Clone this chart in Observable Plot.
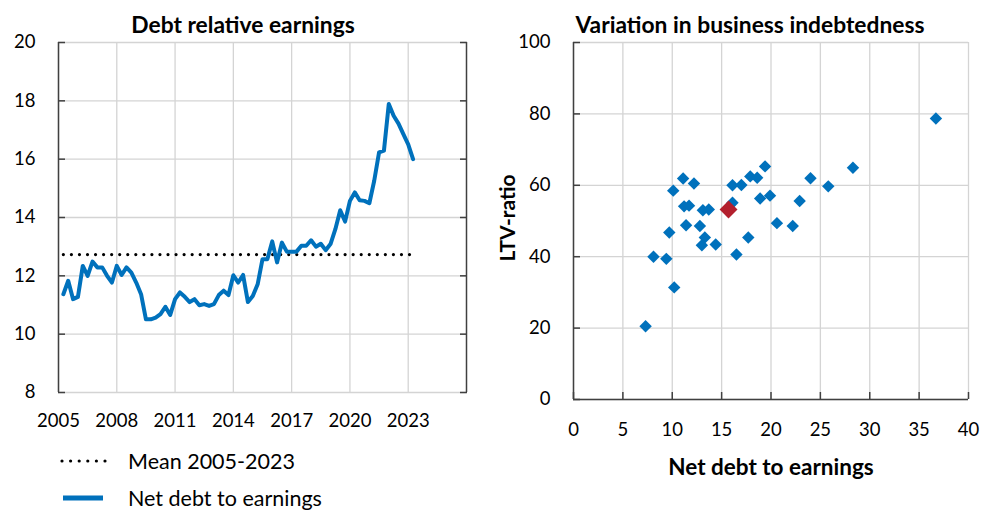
<!DOCTYPE html>
<html><head><meta charset="utf-8">
<script src="https://cdn.jsdelivr.net/npm/d3@7"></script>
<script src="https://cdn.jsdelivr.net/npm/@observablehq/plot@0.6"></script>
<style>
html,body{margin:0;padding:0;background:#fff;}
#wrap{position:relative;width:983px;height:510px;overflow:hidden;font-family:Lato,sans-serif;color:#000;}
.abs{position:absolute;}
.title{font-weight:bold;font-size:22.8px;white-space:nowrap;transform:translate(-50%,-50%);}
.leg{font-size:21.5px;white-space:nowrap;transform:translateY(-50%);}
</style></head><body>
<div id="wrap">
  <div id="left" class="abs" style="left:0;top:0"></div>
  <div id="right" class="abs" style="left:490px;top:0"></div>
  <div class="abs title" style="left:243px;top:24px">Debt relative earnings</div>
  <div class="abs title" style="left:750px;top:24px">Variation in business indebtedness</div>
  <svg class="abs" style="left:0;top:440px" width="125" height="70">
    <line x1="62" x2="106" y1="21" y2="21" stroke="#000" stroke-width="3.2" stroke-linecap="round" stroke-dasharray="0,8.6"/>
    <line x1="63" x2="103" y1="58" y2="58" stroke="#0071bc" stroke-width="5"/>
  </svg>
  <div class="abs leg" style="left:128px;top:461px">Mean 2005-2023</div>
  <div class="abs leg" style="left:128px;top:498px">Net debt to earnings</div>
</div>
<script>
// ---- Left chart data: net debt to earnings, quarterly 2005Q1–2023Q1 ----
const netDebtToEarnings = [11.37,11.83,11.2,11.28,12.34,12.0,12.49,12.29,12.29,12.0,11.77,12.34,12.03,12.29,12.11,11.77,11.37,10.51,10.51,10.57,10.69,10.94,10.66,11.2,11.43,11.28,11.1,11.2,10.99,11.03,10.97,11.03,11.34,11.49,11.34,12.02,11.77,12.03,11.1,11.31,11.71,12.57,12.57,13.18,12.46,13.14,12.83,12.83,12.83,13.03,13.03,13.22,13.0,13.1,12.88,13.09,13.6,14.25,13.86,14.57,14.86,14.59,14.57,14.49,15.26,16.23,16.29,17.89,17.49,17.22,16.86,16.51,16.0];
const firstYear = 2005;
const meanValue = 12.73;
const meanPeriod = [2005.25, 2023.25];
const leftYTicks = [8, 10, 12, 14, 16, 18, 20];
const leftXTicks = [2005, 2008, 2011, 2014, 2017, 2020, 2023];
const leftXDomain = [2005, 2026];

// ---- Right chart data: firms' net debt to earnings vs LTV-ratio ----
const firmNetDebt = [7.3,8.1,9.4,10.2,9.7,10.1,11.1,12.2,11.2,11.7,11.4,12.8,13.1,13.7,13.3,13.0,14.4,16.1,17.0,16.1,16.5,17.7,17.9,18.6,19.4,18.9,19.9,20.6,22.2,22.9,24.0,25.8,28.3,36.7];
const firmLTV = [20.5,40.0,39.4,31.4,46.8,58.5,61.9,60.5,54.1,54.3,48.8,48.6,53.0,53.2,45.4,43.2,43.4,60.0,60.1,55.1,40.6,45.4,62.5,62.1,65.3,56.3,57.1,49.4,48.6,55.6,62.0,59.7,64.9,78.7];
const highlightNetDebt = [15.7];
const highlightLTV = [53.2];
const rightXTicks = [0, 5, 10, 15, 20, 25, 30, 35, 40];
const rightYTicks = [0, 20, 40, 60, 80, 100];

const BLUE = "#0071bc", RED = "#b3202e", GRID = "#d4d4d4", AXIS = "#404040";
const FONT = {fontFamily: "Lato, sans-serif", fontSize: "18.5px", color: "#000", background: "#fff", overflow: "visible"};

const series = netDebtToEarnings.map((v, i) => ({t: firstYear + 0.25 * (i + 1), v}));
const meanData = meanPeriod.map(t => ({t, v: meanValue}));

const left = Plot.plot({
  width: 480, height: 440,
  marginLeft: 58, marginRight: 14, marginTop: 42, marginBottom: 48,
  style: FONT,
  x: {domain: leftXDomain},
  y: {domain: [leftYTicks[0], leftYTicks[leftYTicks.length - 1]]},
  marks: [
    Plot.gridX(leftXTicks, {stroke: GRID, strokeOpacity: 1, strokeWidth: 1.3}),
    Plot.gridY(leftYTicks, {stroke: GRID, strokeOpacity: 1, strokeWidth: 1.3}),
    Plot.ruleX([leftXDomain[0]], {stroke: AXIS, strokeWidth: 1.5}),
    Plot.ruleX([leftXDomain[1]], {stroke: AXIS, strokeWidth: 1.5}),
    Plot.axisY(leftYTicks, {anchor: "left", tickSize: 0, tickPadding: 23, label: null}),
    Plot.axisY(leftYTicks, {anchor: "left", tickSize: 7, dx: 7, fill: "none", stroke: AXIS, strokeWidth: 1.5, label: null}),
    Plot.axisY(leftYTicks, {anchor: "right", tickSize: 7, dx: -7, fill: "none", stroke: AXIS, strokeWidth: 1.5, label: null}),
    Plot.axisX(leftXTicks, {anchor: "bottom", tickSize: 0, tickPadding: 21, tickFormat: d => String(d), label: null}),
    Plot.line(meanData, {x: "t", y: "v", stroke: "#000", strokeWidth: 3.2, strokeLinecap: "round", strokeDasharray: "0,8.05"}),
    Plot.line(series, {x: "t", y: "v", stroke: BLUE, strokeWidth: 4})
  ]
});
document.getElementById("left").appendChild(left);

const firms = firmNetDebt.map((x, i) => ({x, y: firmLTV[i]}));
const highlight = highlightNetDebt.map((x, i) => ({x, y: highlightLTV[i]}));

const right = Plot.plot({
  width: 493, height: 500,
  marginLeft: 83, marginRight: 15, marginTop: 42, marginBottom: 101,
  style: FONT,
  x: {domain: [0, 40]},
  y: {domain: [0, 100]},
  marks: [
    Plot.gridX(rightXTicks, {stroke: GRID, strokeOpacity: 1, strokeWidth: 1.3}),
    Plot.gridY(rightYTicks, {stroke: GRID, strokeOpacity: 1, strokeWidth: 1.3}),
    Plot.ruleX([0], {stroke: AXIS, strokeWidth: 1.5}),
    Plot.ruleY([0], {stroke: AXIS, strokeWidth: 1.5}),
    Plot.axisY(rightYTicks, {anchor: "left", tickSize: 0, tickPadding: 23, label: null}),
    Plot.axisY(rightYTicks, {anchor: "left", tickSize: 7, dx: 7, fill: "none", stroke: AXIS, strokeWidth: 1.5, label: null}),
    Plot.axisX(rightXTicks, {anchor: "bottom", tickSize: 0, tickPadding: 23, label: null}),
    Plot.axisX(rightXTicks, {anchor: "bottom", tickSize: 7, dy: -7, fill: "none", stroke: AXIS, strokeWidth: 1.5, label: null}),
    Plot.dot(firms, {x: "x", y: "y", symbol: "diamond2", r: 5.6, fill: BLUE, stroke: "none"}),
    Plot.dot(highlight, {x: "x", y: "y", symbol: "diamond2", r: 8.1, fill: RED, stroke: "none"}),
    Plot.text(["Net debt to earnings"], {frameAnchor: "bottom", dy: 75, fontWeight: "bold", fontSize: 22.5}),
    Plot.text(["LTV-ratio"], {frameAnchor: "left", textAnchor: "middle", lineAnchor: "middle", rotate: -90, dx: -65, dy: -3, fontWeight: "bold", fontSize: 21})
  ]
});
document.getElementById("right").appendChild(right);
</script>
</body></html>
